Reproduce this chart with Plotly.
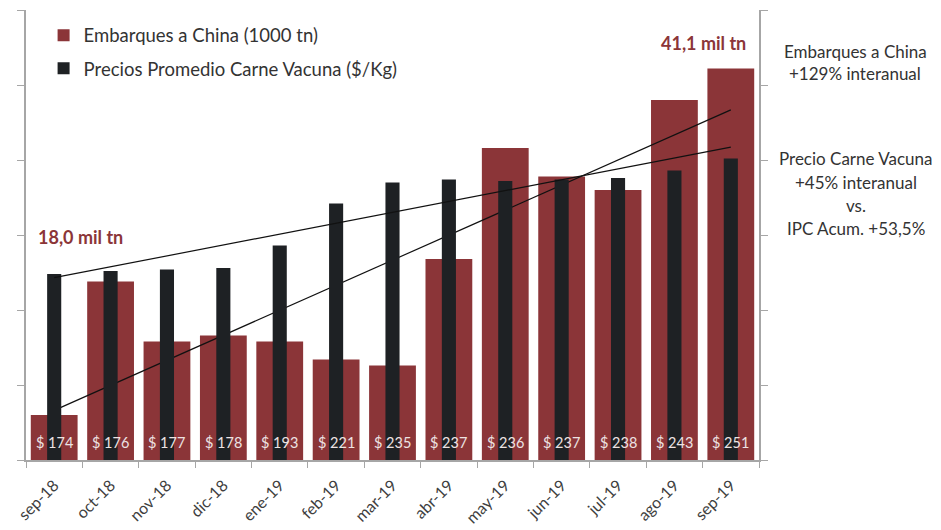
import numpy as np
import plotly.graph_objects as go

meses = ["sep-18", "oct-18", "nov-18", "dic-18", "ene-19", "feb-19", "mar-19",
         "abr-19", "may-19", "jun-19", "jul-19", "ago-19", "sep-19"]
embarques = [18.0, 26.9, 22.9, 23.3, 22.9, 21.7, 21.3, 28.4, 35.8, 33.9, 33.0, 39.0, 41.1]
precios = [174, 176, 177, 178, 193, 221, 235, 237, 236, 237, 238, 243, 251]

RED = "#8B3538"
BLK = "#1E2124"
FONT = "Lato"
AXC = "#A6A6A6"

W, H = 941, 530
OFF = 8  # page body margin
ML, MR, MT, MB = 26 - OFF, 182 + OFF, 10 - OFF, 70 + OFF

idx = np.arange(len(meses))
tr_emb = np.polyval(np.polyfit(idx, embarques, 1), idx)
tr_pre = np.polyval(np.polyfit(idx, precios, 1), idx)

fig = go.Figure()
fig.add_trace(go.Bar(x=meses, y=embarques, name="Embarques a China (1000 tn)",
                     marker=dict(color=RED, line=dict(width=0)), width=0.83,
                     legendgroup="a", yaxis="y"))
fig.add_trace(go.Scatter(x=meses, y=tr_emb, mode="lines", line=dict(color="#111", width=1.2),
                         showlegend=False, yaxis="y", hoverinfo="skip"))
fig.add_trace(go.Bar(x=meses, y=precios, name="Precios Promedio Carne Vacuna ($/Kg)",
                     marker=dict(color=BLK, line=dict(width=0)), width=0.25,
                     legendgroup="b", yaxis="y2"))
fig.add_trace(go.Scatter(x=meses, y=tr_pre, mode="lines", line=dict(color="#111", width=1.2),
                         showlegend=False, yaxis="y2", hoverinfo="skip"))


def px_ann(text, x, y, size=17, color="#333", xanchor="center", bold=False):
    # x, y in page pixels -> paper coords
    xp = (x - OFF - ML) / (W - ML - MR)
    yp = (H - MB - (y - OFF)) / (H - MT - MB)
    t = f"<b>{text}</b>" if bold else text
    return dict(text=t, x=xp, y=yp, xref="paper", yref="paper", showarrow=False,
                xanchor=xanchor, yanchor="middle", font=dict(family=FONT, size=size, color=color))


ann = []
for m, p in zip(meses, precios):
    ann.append(dict(x=m, y=0, xref="x", yref="paper", yanchor="bottom", yshift=7,
                    text=f"$ {p}", showarrow=False,
                    font=dict(family=FONT, size=14.5, color="#EDE3E3")))
ann += [
    px_ann("18,0 mil tn", 36, 237, 18, RED, "left", True),
    px_ann("41,1 mil tn", 748, 43, 18, RED, "right", True),
    px_ann("Embarques a China", 855, 51),
    px_ann("+129% interanual", 855, 73),
    px_ann("Precio Carne Vacuna", 856, 158),
    px_ann("+45% interanual", 856, 182),
    px_ann("vs.", 856, 205),
    px_ann("IPC Acum. +53,5%", 856, 228),
]

fig.update_layout(
    width=W, height=H,
    margin=dict(l=ML, r=MR, t=MT, b=MB),
    paper_bgcolor="white", plot_bgcolor="white",
    barmode="overlay",
    font=dict(family=FONT, size=14, color="#404040"),
    xaxis=dict(type="category", showline=True, linecolor=AXC, linewidth=1.5,
               ticks="outside", tickson="boundaries", ticklen=6, tickcolor=AXC,
               tickangle=-45, tickfont=dict(size=16, color="#404040"), showgrid=False,
               ticklabelstandoff=8, automargin=False),
    yaxis=dict(range=[15, 45], dtick=5, showline=True, linecolor=AXC, linewidth=1.5,
               ticks="outside", ticklen=7, tickcolor=AXC, showticklabels=False,
               showgrid=False, zeroline=False, automargin=False),
    yaxis2=dict(range=[50, 350], dtick=50, overlaying="y", side="right", showline=True,
                linecolor=AXC, linewidth=1.5, ticks="outside", ticklen=7, tickcolor=AXC,
                showticklabels=False, showgrid=False, zeroline=False, automargin=False),
    legend=dict(x=0.024, y=0.985, xanchor="left", yanchor="top", bgcolor="rgba(0,0,0,0)",
                font=dict(family=FONT, size=18.5, color="#333"), traceorder="grouped",
                tracegroupgap=6, itemwidth=30),
    showlegend=True,
    annotations=ann,
)

fig.write_html("out.html")
